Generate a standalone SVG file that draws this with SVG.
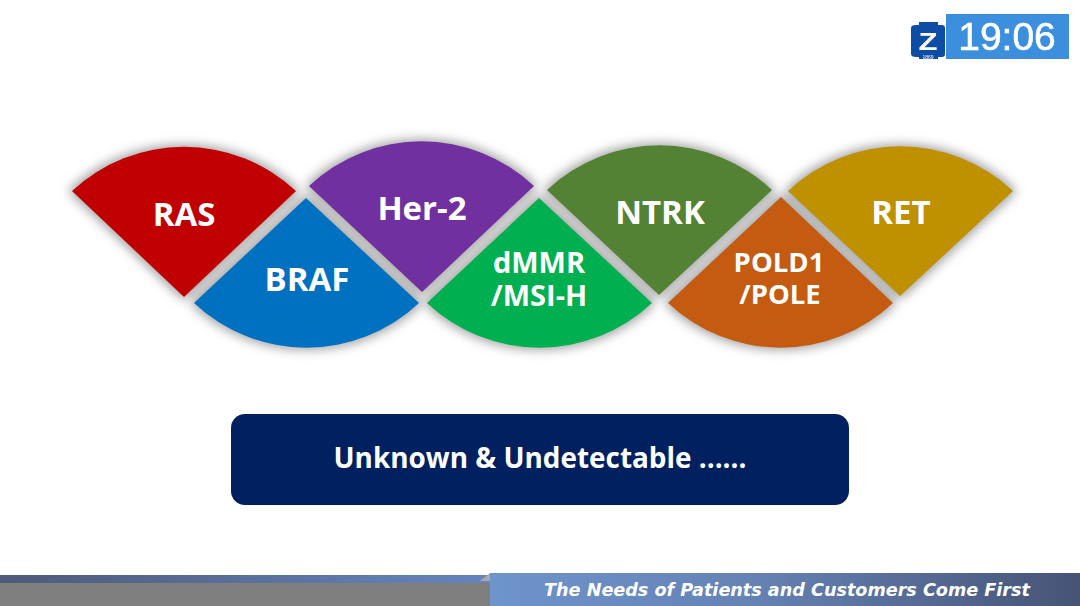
<svg xmlns="http://www.w3.org/2000/svg" width="1080" height="606" viewBox="0 0 1080 606">
<style>
text{font-family:"Open Sans","Noto Sans","Liberation Sans",sans-serif;fill:#fff;font-weight:700;text-anchor:middle}
.n{font-size:33px}
.s{font-size:29px}
.t{font-size:27.5px}
.clk{font-family:"Liberation Sans",sans-serif}
</style>
<defs>
<filter id="soft" x="-10%" y="-20%" width="120%" height="140%"><feMorphology operator="dilate" radius="2"/><feGaussianBlur stdDeviation="5.5"/></filter>
<filter id="b"><feGaussianBlur stdDeviation="0.6"/></filter>
<linearGradient id="bar" x1="0" x2="1" y1="0" y2="0"><stop offset="0" stop-color="#6e94cc"/><stop offset="0.45" stop-color="#6582b4"/><stop offset="1" stop-color="#465375"/></linearGradient>
<linearGradient id="strip" x1="0" x2="1" y1="0" y2="0"><stop offset="0" stop-color="#4e5a78"/><stop offset="1" stop-color="#6685bd"/></linearGradient>
<path id="p1" d="M72 191A164 164 0 0 1 296 191L184 297Z"/>
<path id="p2" d="M194 303L306 198L419 303A164 164 0 0 1 194 303Z"/>
<path id="p3" d="M309 186A164 164 0 0 1 534 186L422 292Z"/>
<path id="p4" d="M427 303L539 198L652 303A164 164 0 0 1 427 303Z"/>
<path id="p5" d="M547 190A164 164 0 0 1 772 190L659 295Z"/>
<path id="p6" d="M668 303L781 197L893 303A164 164 0 0 1 668 303Z"/>
<path id="p7" d="M788 191A164 164 0 0 1 1013 191L900 296Z"/>
</defs>
<rect width="1080" height="606" fill="#fff"/>
<g id="shadows" filter="url(#soft)" fill="#a0a0a0">
<use href="#p1"/><use href="#p2"/><use href="#p3"/><use href="#p4"/><use href="#p5"/><use href="#p6"/><use href="#p7"/>
</g>
<g id="connectors"></g>
<g id="ras"><use href="#p1" fill="#c00000"/><text class="n" x="184" y="226">RAS</text></g>
<g id="braf"><use href="#p2" fill="#0070c0"/><text class="n" x="307" y="291">BRAF</text></g>
<g id="her2"><use href="#p3" fill="#7030a0"/><text class="n" x="422" y="220">Her-2</text></g>
<g id="dmmr"><use href="#p4" fill="#00b050"/><text class="s"><tspan x="539" y="273">dMMR</tspan><tspan x="539" y="306">/MSI-H</tspan></text></g>
<g id="ntrk"><use href="#p5" fill="#548235"/><text class="n" x="660" y="224">NTRK</text></g>
<g id="pold"><use href="#p6" fill="#c55a11"/><text class="t"><tspan x="779" y="272">POLD1</tspan><tspan x="780" y="304">/POLE</tspan></text></g>
<g id="ret"><use href="#p7" fill="#bf9000"/><text class="n" x="901" y="224">RET</text></g>
<g id="banner"><rect x="231" y="414" width="618" height="91" rx="14" fill="#002060"/><text x="540" y="468" font-size="27.9">Unknown &amp; Undetectable ......</text></g>
<g id="clock" filter="url(#b)">
<rect x="946" y="14" width="123" height="45" fill="#3a8fdc"/>
<path d="M916 25h3v-3h19v3h4q3 0 3 3v26q0 3-3 3h-4v2h-19v-2h-3q-5 0-5-3v-26q0-3 5-3Z" fill="#0f4ea6"/>
<text class="clk" transform="translate(928 50) scale(1.3 1)" font-size="24">Z</text>
<text class="clk" x="928" y="59" font-size="5" style="font-weight:400">1869</text>
<text class="clk" x="1007" y="50" font-size="39" stroke="#fff" stroke-width="0.6" style="font-weight:400">19:06</text>
</g>
<g id="footer">
<rect x="0" y="575" width="490" height="8" fill="url(#strip)"/>
<rect x="0" y="583" width="490" height="23" fill="#7f7f7f"/>
<path d="M480 581L490 573V581Z" fill="#a9a9a9"/>
<rect x="490" y="573" width="590" height="33" fill="url(#bar)"/>
<text x="787" y="596" font-size="17.6" style="font-family:'DejaVu Sans',sans-serif;font-style:italic">The Needs of Patients and Customers Come First</text>
</g>
</svg>
